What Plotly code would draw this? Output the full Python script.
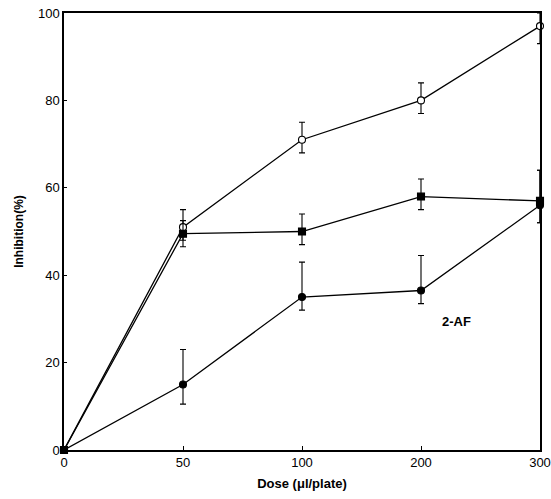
import plotly.graph_objects as go

doses = ["0", "50", "100", "200", "300"]

open_circle = [0, 51, 71, 80, 97]
open_circle_plus = [0, 4, 4, 4, 3]
open_circle_minus = [0, 3, 3, 3, 4]

filled_square = [0, 49.5, 50, 58, 57]
filled_square_plus = [0, 3, 4, 4, 7]
filled_square_minus = [0, 3, 3, 3, 5]

filled_circle = [0, 15, 35, 36.5, 56]
filled_circle_plus = [0, 8, 8, 8, 8]
filled_circle_minus = [0, 4.5, 3, 3, 4]

fig = go.Figure()

def add(y, plus, minus, symbol, fill, size):
    fig.add_trace(go.Scatter(
        x=doses, y=y, mode="lines+markers",
        line=dict(color="black", width=1.3),
        marker=dict(symbol=symbol, size=size, color=fill,
                    line=dict(color="black", width=1.1)),
        error_y=dict(type="data", symmetric=False, array=plus, arrayminus=minus,
                     color="black", thickness=1.1, width=3),
        showlegend=False, cliponaxis=False,
    ))

add(open_circle, open_circle_plus, open_circle_minus, "circle", "white", 7)
add(filled_circle, filled_circle_plus, filled_circle_minus, "circle", "black", 7)
add(filled_square, filled_square_plus, filled_square_minus, "square", "black", 7)

fig.add_annotation(x=3.3, y=29.5, text="<b>2-AF</b>", showarrow=False,
                   font=dict(family="Liberation Sans, Arial", size=13, color="black"))

fig.update_layout(
    width=551, height=499,
    margin=dict(l=64, r=11, t=13, b=49),
    plot_bgcolor="white", paper_bgcolor="white",
    font=dict(family="Liberation Sans, Arial", size=12, color="black"),
)
fig.update_xaxes(type="category", range=[0, 4], automargin=False, showline=True,
                 linecolor="black", linewidth=1.5, mirror=True, ticks="inside",
                 ticklen=4, tickcolor="black", showgrid=False, zeroline=False,
                 tickfont=dict(size=13),
                 title=dict(text="<b>Dose (μl/plate)</b>", font=dict(size=13), standoff=10))
fig.update_yaxes(range=[0, 100], dtick=20, automargin=False, showline=True,
                 linecolor="black", linewidth=1.5, mirror=True, ticks="inside",
                 ticklen=3, tickcolor="black", showgrid=False, zeroline=False,
                 tickfont=dict(size=13),
                 title=dict(text="<b>Inhibition(%)</b>", font=dict(size=12), standoff=12))

fig.write_html("out.html")
